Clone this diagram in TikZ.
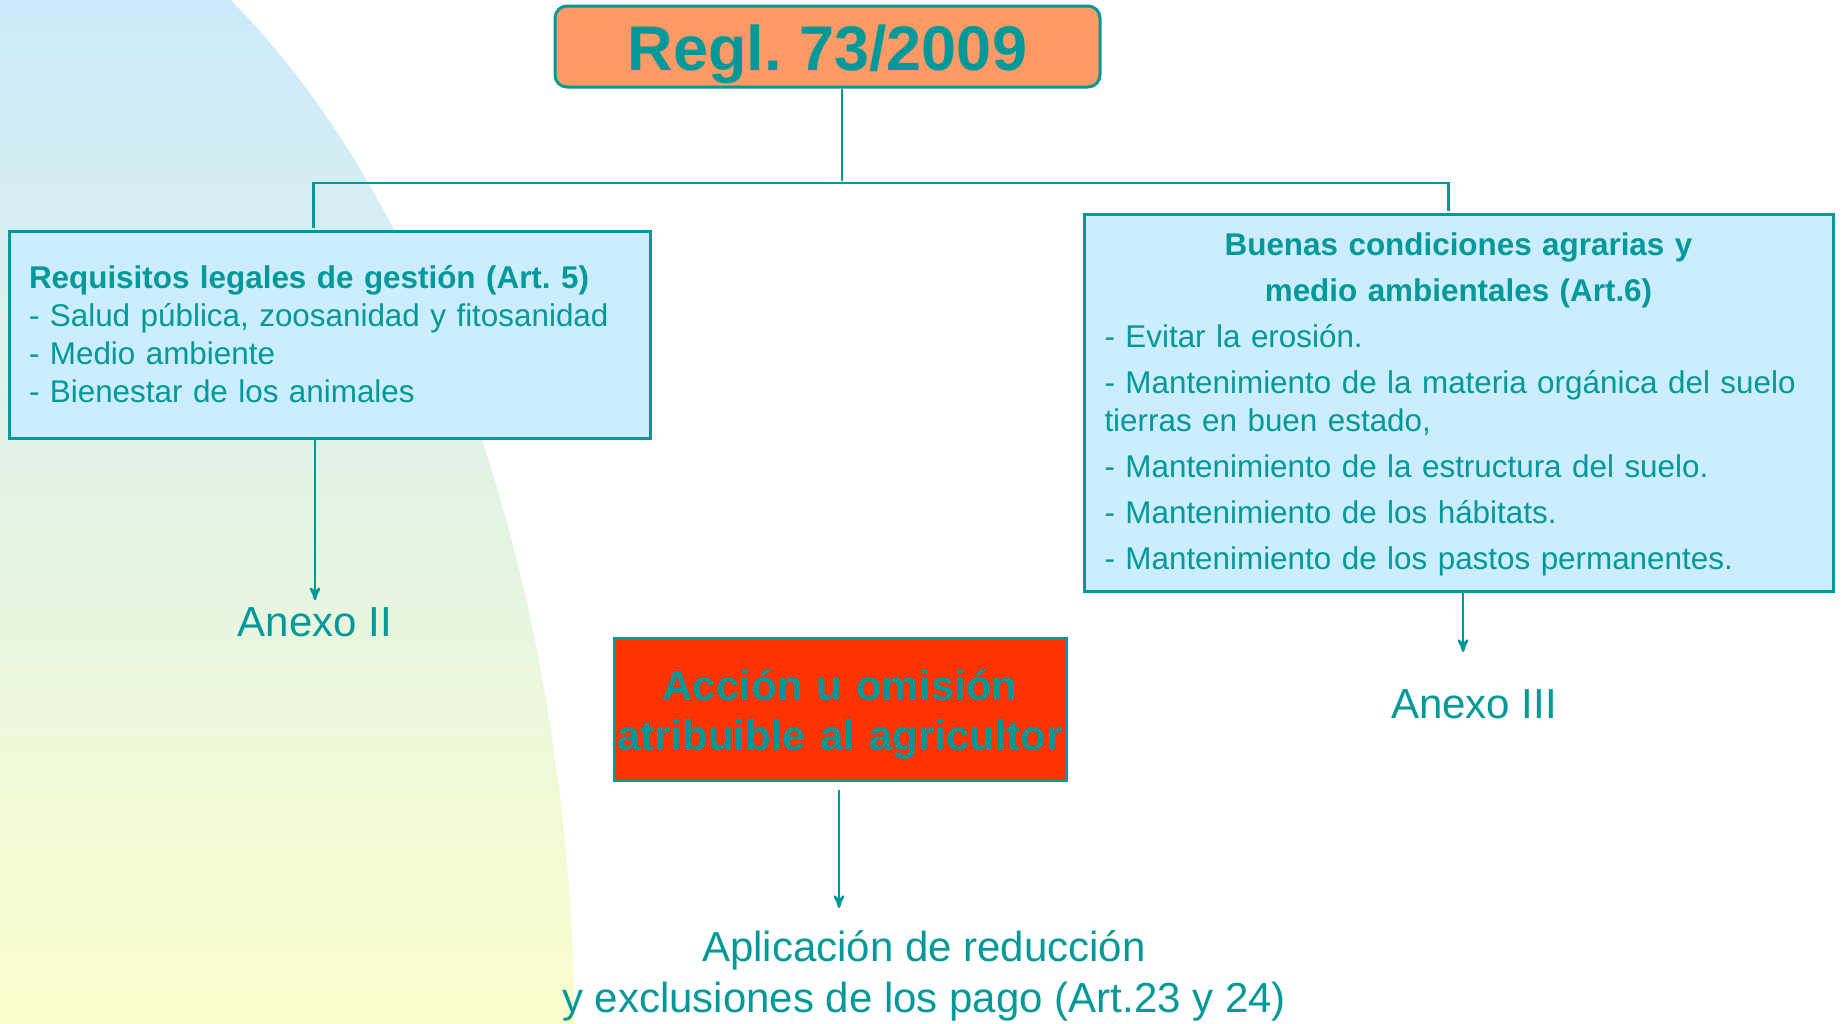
\documentclass[tikz,border=0pt]{standalone}
\usepackage{fontspec}
\setmainfont{Liberation Sans}
\usepackage{tikz}
\usetikzlibrary{arrows}
\usetikzlibrary{positioning}
\usetikzlibrary{calc}
\frenchspacing
\definecolor{verde}{RGB}{0,153,153}
\definecolor{naranja}{RGB}{255,153,102}
\definecolor{celeste}{RGB}{204,236,255}
\definecolor{rojo}{RGB}{255,51,0}
\definecolor{fondoA}{RGB}{204,234,252}
\definecolor{fondoB}{RGB}{251,253,204}
\tikzset{rama/.style={-}}
\newcommand{\izq}[1]{\makebox[354pt][l]{#1}}

\begin{document}
\begin{tikzpicture}[->,>=stealth',shorten >=1pt,auto,x=0.5pt,y=-0.5pt,line width=1.2pt,color=verde]
\tikzstyle{titulo} = [draw,rectangle,rounded corners=6pt,fill=naranja,line width=1.5pt,inner sep=0pt,minimum width=272.5pt,minimum height=40.5pt,text height=30pt,text depth=6.5pt,font=\fontsize{31.5}{36}\selectfont\bfseries]
\tikzstyle{caja} = [draw,rectangle,fill=celeste,line width=1.5pt,inner xsep=10pt,font=\fontsize{15.7}{19}\selectfont]
\tikzstyle{accion} = [draw,rectangle,fill=rojo,line width=1.5pt,minimum width=226pt,minimum height=71pt,inner sep=0pt,text width=226pt,text height=20.4pt,text depth=29.4pt,align=center,font=\fontsize{21}{25}\selectfont\bfseries]
\tikzstyle{anexo} = [inner sep=2pt,align=center,font=\fontsize{21}{25.5}\selectfont]

\useasboundingbox (0,0) rectangle (1845,1023);
% fondo
\begin{scope}
\clip (-100,1050) ellipse [x radius=675, y radius=1204];
\shade[top color=fondoA,bottom color=fondoB] (0,0) rectangle (700,1023);
\end{scope}

\node[titulo] (REGL) at (827.5,46.5) {Regl. 73/2009};

\node[caja,text width=300.5pt,minimum height=103.5pt,align=left] (RLG) at (329.5,334.5)
  {\textbf{Requisitos legales de gestión (Art. 5)}\\- Salud pública, zoosanidad y fitosanidad\\- Medio ambiente\\- Bienestar de los animales};

\node[caja,text width=354.5pt,minimum height=188.5pt,text height=12.8pt,text depth=160.3pt,align=center] (BCAM) at (1458.5,402.5)
  {\textbf{Buenas condiciones agrarias y}\\[4pt]\textbf{medio ambientales (Art.6)}\\[4pt]
   \izq{- Evitar la erosión.}\\[4pt]
   \izq{- Mantenimiento de la materia orgánica del suelo}\\\izq{tierras en buen estado,}\\[4pt]
   \izq{- Mantenimiento de la estructura del suelo.}\\[4pt]
   \izq{- Mantenimiento de los hábitats.}\\[4pt]
   \izq{- Mantenimiento de los pastos permanentes.}};

\node[accion] (ACC) at (840,709) {Acción u omisión\\atribuible al agricultor};

\node[anexo] (ANX2) at (315,622) {Anexo II};
\node[anexo] (ANX3) at (1474,704) {Anexo III};
\node[anexo] (APL) at (924,976) {Aplicación de reducción\\y exclusiones de los pago (Art.23 y 24)};

\coordinate (NUDO) at (842,183);
\coordinate (FIN3) at (1463,654);
\coordinate (FIN4) at (839,910);

\draw[rama] (REGL.south -| NUDO) -- (NUDO);
\draw[rama] (NUDO) -| ([xshift=-8pt]RLG.north);
\draw[rama] (NUDO) -| ([xshift=-5pt]BCAM.north);

\draw (RLG.south -| ANX2) -- (ANX2.north);
\draw (BCAM.south -| FIN3) -- (FIN3);
\draw ([yshift=-4pt]ACC.south -| FIN4) -- (FIN4);

\end{tikzpicture}
\end{document}
